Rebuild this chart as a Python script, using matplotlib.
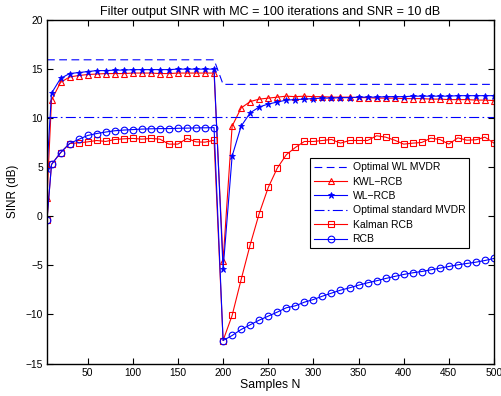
import matplotlib
matplotlib.use("Agg")
import matplotlib.pyplot as plt
import numpy as np

plt.rcParams['font.family'] = ['Liberation Sans', 'DejaVu Sans']

N = [5] + list(range(10, 501, 10))

opt_wl = [15.9] * 20 + [13.4] * 31
opt_std = [10.05] * 51

kwl_rcb = [1.85, 11.8, 13.6, 14.15, 14.3, 14.4, 14.45, 14.5, 14.5, 14.5,
           14.55, 14.55, 14.55, 14.5, 14.5, 14.55, 14.55, 14.55, 14.55, 14.55,
           -4.6, 9.15, 11.0, 11.65, 11.9, 12.0, 12.1, 12.2, 12.15, 12.2,
           12.15, 12.15, 12.1, 12.1, 12.1, 12.05, 12.05, 12.0, 12.0, 12.0,
           11.95, 11.95, 11.95, 11.9, 11.9, 11.85, 11.85, 11.85, 11.8, 11.8, 11.75]

wl_rcb = [4.8, 12.5, 14.0, 14.5, 14.6, 14.7, 14.8, 14.8, 14.85, 14.85,
          14.9, 14.9, 14.9, 14.9, 14.9, 14.95, 14.95, 14.95, 14.95, 14.95,
          -5.4, 6.1, 9.15, 10.5, 11.1, 11.4, 11.6, 11.8, 11.85, 11.9,
          11.95, 12.0, 12.0, 12.05, 12.05, 12.1, 12.1, 12.1, 12.15, 12.15,
          12.15, 12.2, 12.2, 12.2, 12.2, 12.2, 12.25, 12.25, 12.25, 12.25, 12.25]

kalman_rcb = [-0.35, 5.25, 6.45, 7.38, 7.45, 7.55, 7.69, 7.59, 7.79, 7.86,
              7.9, 7.83, 7.9, 7.83, 7.32, 7.32, 7.9, 7.55, 7.52, 7.72,
              -12.66, -10.11, -6.45, -2.92, 0.26, 2.91, 4.88, 6.24, 6.98, 7.59,
              7.59, 7.69, 7.79, 7.42, 7.69, 7.69, 7.69, 8.17, 8.03, 7.72,
              7.32, 7.42, 7.49, 7.93, 7.79, 7.32, 7.96, 7.72, 7.76, 8.03, 7.42]

rcb = [-0.35, 5.25, 6.45, 7.38, 7.8, 8.2, 8.4, 8.55, 8.68, 8.75,
       8.8, 8.85, 8.88, 8.9, 8.9, 8.93, 8.95, 8.97, 8.98, 9.0,
       -12.66, -12.15, -11.54, -11.06, -10.59, -10.18, -9.77, -9.33, -9.13, -8.76,
       -8.49, -8.15, -7.84, -7.54, -7.30, -7.03, -6.79, -6.58, -6.35, -6.14,
       -5.94, -5.77, -5.64, -5.47, -5.30, -5.13, -4.96, -4.82, -4.69, -4.52, -4.31]

labels = ['Optimal WL MVDR', 'KWL\u2212RCB', 'WL\u2212RCB',
          'Optimal standard MVDR', 'Kalman RCB', 'RCB']

fig = plt.figure(figsize=(5.02, 3.96), dpi=100)
ax = fig.add_axes([47/502, 1-363.5/396, 447/502, 344/396])

lw = 0.8
ax.plot(N, opt_wl, color='b', ls=(0, (7, 4)), lw=lw, label=labels[0])
ax.plot(N, kwl_rcb, color='r', lw=lw, marker='^', ms=5, mfc='none', mew=0.8, label=labels[1])
ax.plot(N, wl_rcb, color='b', lw=lw, marker='*', ms=4.5, mew=0.6, label=labels[2])
ax.plot(N, opt_std, color='b', ls=(0, (9, 3, 1.5, 3)), lw=lw, label=labels[3])
ax.plot(N, kalman_rcb, color='r', lw=lw, marker='s', ms=4, mfc='none', mew=0.8, label=labels[4])
ax.plot(N, rcb, color='b', lw=lw, marker='o', ms=4.8, mfc='none', mew=0.8, label=labels[5])

ax.set_xlim(5, 500)
ax.set_ylim(-15, 20)
ax.set_xticks(np.arange(50, 501, 50))
ax.set_yticks(np.arange(-15, 21, 5))
ax.tick_params(direction='in', top=True, right=True, length=4, width=0.8, labelsize=7.4, pad=3)
for s in ax.spines.values():
    s.set_linewidth(1.0)
ax.set_xlabel('Samples N', fontsize=8.8, labelpad=1)
ax.set_ylabel('SINR (dB)', fontsize=8.4, labelpad=5)
ax.set_title('Filter output SINR with MC = 100 iterations and SNR = 10 dB', fontsize=9.0, pad=3)

leg = ax.legend(loc='upper left', bbox_to_anchor=(0.588, 0.597), fontsize=7.5,
                fancybox=False, framealpha=1, edgecolor='k', borderpad=0.4,
                labelspacing=0.42, handlelength=3.2, handletextpad=0.5, borderaxespad=0)
leg.get_frame().set_linewidth(0.8)

fig.savefig('out.png', dpi=100)
